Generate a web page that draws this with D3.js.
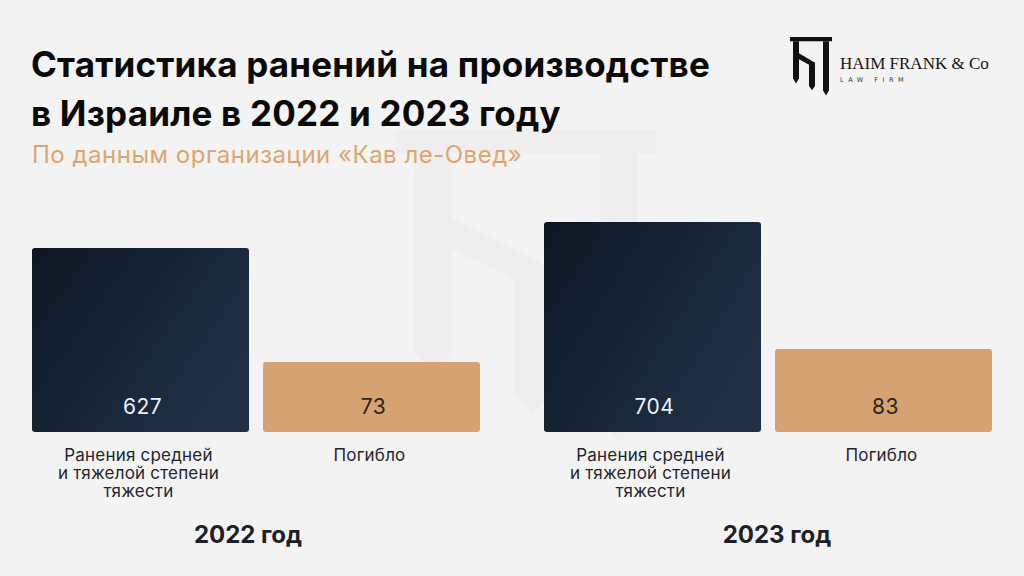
<!DOCTYPE html>
<html><head><meta charset="utf-8">
<script src="https://cdn.jsdelivr.net/npm/d3@7"></script>
<style>
html,body{margin:0;padding:0;background:#f3f3f3;}
svg{display:block;}
</style></head>
<body>
<script>
// ---- data ----
const years = ["2022", "2023"];
const yearLabels = ["2022 год", "2023 год"];
const categories = ["injured", "killed"];
const categoryLabels = [["Ранения средней", "и тяжелой степени", "тяжести"], ["Погибло"]];
const values2022 = [627, 73];
const values2023 = [704, 83];
const title = ["Статистика ранений на производстве", "в Израиле в 2022 и 2023 году"];
const subtitle = "По данным организации «Кав ле-Овед»";

const W = 1024, H = 576;
const svg = d3.select("body").append("svg").attr("width", W).attr("height", H);
svg.append("rect").attr("width", W).attr("height", H).attr("fill", "#f3f3f3");

const defs = svg.append("defs");
const g1 = defs.append("linearGradient").attr("id", "navy").attr("x1", "0").attr("y1", "0").attr("x2", "1").attr("y2", "0.6");
g1.append("stop").attr("offset", "0").attr("stop-color", "#0d1622");
g1.append("stop").attr("offset", "1").attr("stop-color", "#1f3047");

// monogram shape (local units)
const mono = [
  "M0,0 L42,0 L42,5 L0,5 Z",
  "M3,5 L9,5 L9,48 L6,54 L3,48 Z",
  "M9,19 L25,30 L25,36 L9,26 Z",
  "M19,30 L25,30 L25,57 L22,62 L19,57 Z",
  "M33,5 L39,5 L39,62 L36,68 L33,62 Z"
];
// watermark
const wm = svg.append("g").attr("transform", "translate(396,130) scale(6.2,4.6)");
wm.selectAll("path").data(mono).join("path").attr("d", d => d).attr("fill", "#eeeeee");

// ---- scales ----
const x0 = d3.scaleBand().domain(years).range([0, W]);
const x1 = d3.scaleBand().domain(categories).range([32, 480]).paddingInner(14 / 231);
const baseY = 432;
const y = d3.scaleLinear().domain([0, 73, 83, 627, 704]).range([0, 70, 83, 184, 210]);

const rows = [];
years.forEach((yr, i) => {
  const vals = i === 0 ? values2022 : values2023;
  categories.forEach((c, j) => rows.push({year: yr, cat: c, j, value: vals[j]}));
});

const bars = svg.append("g").selectAll("g").data(rows).join("g")
  .attr("transform", d => `translate(${x0(d.year) + x1(d.cat)},0)`);
bars.append("rect")
  .attr("x", 0).attr("y", d => baseY - y(d.value))
  .attr("width", x1.bandwidth()).attr("height", d => y(d.value))
  .attr("rx", 3)
  .attr("fill", d => d.j === 0 ? "url(#navy)" : "#d7a271");
bars.append("text")
  .attr("x", x1.bandwidth() / 2 + 2).attr("y", 414)
  .attr("text-anchor", "middle")
  .attr("font-family", "Inter, sans-serif").attr("font-size", 21)
  .attr("letter-spacing", 0.5)
  .attr("fill", d => d.j === 0 ? "#eef0f3" : "#2b2620")
  .text(d => d.value);
bars.each(function(d) {
  const t = d3.select(this).append("text")
    .attr("text-anchor", "middle")
    .attr("font-family", "Inter, sans-serif").attr("font-size", 17)
    .attr("letter-spacing", 0.2)
    .attr("fill", "#23262c");
  categoryLabels[d.j].forEach((line, k) => {
    t.append("tspan").attr("x", x1.bandwidth() / 2 - 2).attr("y", 461 + k * 18).text(line);
  });
});

// year labels
svg.append("g").selectAll("text").data(years).join("text")
  .attr("x", (d, i) => x0(d) + x0.bandwidth() / 2 + (i === 0 ? -8 : 9))
  .attr("y", 543)
  .attr("text-anchor", "middle")
  .attr("font-family", "Inter, sans-serif").attr("font-weight", 700).attr("font-size", 24)
  .attr("fill", "#1c2028")
  .text((d, i) => yearLabels[i]);

// title
svg.append("g").selectAll("text").data(title).join("text")
  .attr("x", 31).attr("y", (d, i) => 77 + i * 49)
  .attr("font-family", "Inter, sans-serif").attr("font-weight", 700).attr("font-size", 35)
  .attr("letter-spacing", 0.2)
  .attr("fill", "#0a0a0a")
  .text(d => d);
svg.append("text").attr("x", 32).attr("y", 163)
  .attr("font-family", "Inter, sans-serif").attr("font-size", 24)
  .attr("letter-spacing", 0.5)
  .attr("fill", "#dca672")
  .text(subtitle);

// logo
const logo = svg.append("g").attr("transform", "translate(790,37) scale(1,0.86)");
logo.selectAll("path").data(mono).join("path").attr("d", d => d).attr("fill", "#111");
svg.append("text").attr("x", 840).attr("y", 69)
  .attr("font-family", "'Liberation Serif', serif").attr("font-size", 17)
  .attr("fill", "#151515").text("HAIM FRANK & Co");
svg.append("text").attr("x", 840).attr("y", 82)
  .attr("font-family", "'DejaVu Sans', sans-serif").attr("font-size", 6.5)
  .attr("letter-spacing", 4.5).attr("fill", "#333").text("LAW FIRM");
</script>
</body></html>
